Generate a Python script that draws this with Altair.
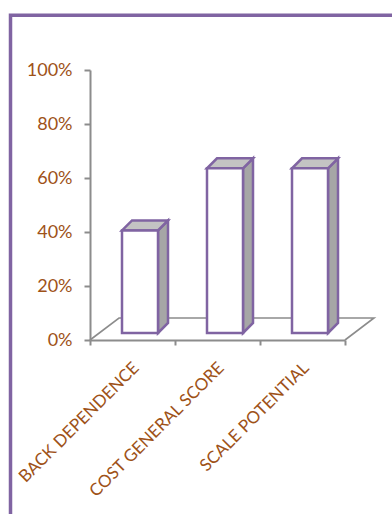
import json
import altair as alt
import pandas as pd

# --- chart values -----------------------------------------------------------
categories = ["BACK DEPENDENCE", "COST GENERAL SCORE", "SCALE POTENTIAL"]
values = [0.38, 0.61, 0.61]
y_ticks = [0, 0.2, 0.4, 0.6, 0.8, 1.0]

# --- styling ----------------------------------------------------------------
PURPLE = "#8064A2"
BROWN = "#9E5218"
AXIS_GRAY = "#8C8C8C"
TOP_FILL = "#C3C3C3"
SIDE_FILL = "#A6A6A6"
FONT = "Lato"

PLOT_W, PLOT_H = 255, 270
N = len(categories)
ux = N / PLOT_W          # x data units per pixel
uy = 1.0 / PLOT_H        # y data units per pixel

BAR_W = 36 * ux                       # front face width
BAR_DX, BAR_DY = 10 * ux, 10 * uy     # bar depth (oblique projection)
FLOOR_DX, FLOOR_DY = 29 * ux, 22 * uy # floor depth
SET_X, SET_Y = 7.5, -7                # pixel shift of bars into the floor

# --- geometry tables built from the values ----------------------------------
front_rows, side_rows, top_rows = [], [], []
for i, (cat, v) in enumerate(zip(categories, values)):
    xl = i + 0.5 - BAR_W / 2
    xr = i + 0.5 + BAR_W / 2
    front_rows.append({"bar": cat, "x": xl, "x2": xr, "y": v, "y2": 0.0})
    side_rows += [
        {"bar": cat, "x": xr, "y": 0.0, "y2": v},
        {"bar": cat, "x": xr + BAR_DX, "y": BAR_DY, "y2": v + BAR_DY},
    ]
    top_rows += [
        {"bar": cat, "x": xl, "y": v, "y2": v},
        {"bar": cat, "x": xl + BAR_DX, "y": v, "y2": v + BAR_DY},
        {"bar": cat, "x": xr, "y": v, "y2": v + BAR_DY},
        {"bar": cat, "x": xr + BAR_DX, "y": v + BAR_DY, "y2": v + BAR_DY},
    ]

floor_df = pd.DataFrame({
    "x": [0, FLOOR_DX, N + FLOOR_DX, N],
    "y": [0, FLOOR_DY, FLOOR_DY, 0],
    "k": [0, 1, 2, 3],
})
front_df = pd.DataFrame(front_rows)
side_df = pd.DataFrame(side_rows)
top_df = pd.DataFrame(top_rows)

label_expr = "datum.value < {n} ? {arr}[datum.value] : ''".format(
    n=N, arr=json.dumps(categories))

x_enc = alt.X(
    "x:Q",
    scale=alt.Scale(domain=[0, N], nice=False, zero=False),
    axis=alt.Axis(
        values=list(range(N + 1)), labelExpr=label_expr, title=None,
        grid=False, domainColor=AXIS_GRAY, domainWidth=2,
        tickColor=AXIS_GRAY, tickWidth=2, tickSize=5,
        labelAngle=-45, labelAlign="right", labelBaseline="middle",
        labelOffset=46, labelPadding=20, labelOverlap=False,
        labelFlush=False, labelBound=False, labelLimit=0,
        labelFont=FONT, labelFontSize=17, labelColor=BROWN,
    ),
)
y_enc = alt.Y(
    "y:Q",
    stack=None,
    scale=alt.Scale(domain=[0, 1], nice=False),
    axis=alt.Axis(
        values=y_ticks, format=".0%", title=None, grid=False,
        domainColor=AXIS_GRAY, domainWidth=2,
        tickColor=AXIS_GRAY, tickWidth=2, tickSize=6,
        labelPadding=12, labelFont=FONT, labelFontSize=18, labelColor=BROWN,
    ),
)

# outer frame around the chart
frame = alt.Chart(pd.DataFrame({"f": [0]})).mark_rect(
    filled=False, stroke=PURPLE, strokeWidth=3.5
).encode(
    x=alt.value(-79.5), x2=alt.value(330),
    y=alt.value(-54.7), y2=alt.value(470),
)

floor = alt.Chart(floor_df).mark_line(
    color=AXIS_GRAY, strokeWidth=1.6
).encode(x=x_enc, y=y_enc, order="k:O")

face_style = dict(
    stroke=PURPLE, strokeWidth=2.5, strokeJoin="miter",
    xOffset=SET_X, yOffset=SET_Y, x2Offset=SET_X, y2Offset=SET_Y,
)

side = alt.Chart(side_df).mark_area(fill=SIDE_FILL, **face_style).encode(
    x=x_enc, y=y_enc, y2="y2:Q", detail="bar:N"
)

top = alt.Chart(top_df).mark_area(fill=TOP_FILL, **face_style).encode(
    x=x_enc, y=y_enc, y2="y2:Q", detail="bar:N"
)

front = alt.Chart(front_df).mark_rect(fill="white", **face_style).encode(
    x=x_enc, x2="x2:Q", y=y_enc, y2="y2:Q"
)

chart = alt.layer(frame, floor, side, top, front).properties(
    width=PLOT_W, height=PLOT_H,
    autosize=alt.AutoSizeParams(type="none"),
    padding={"left": 90, "top": 70, "right": 47, "bottom": 174},
    background="white",
).configure_view(stroke=None)

chart.save("out.html", embed_options={"renderer": "svg", "actions": False})
